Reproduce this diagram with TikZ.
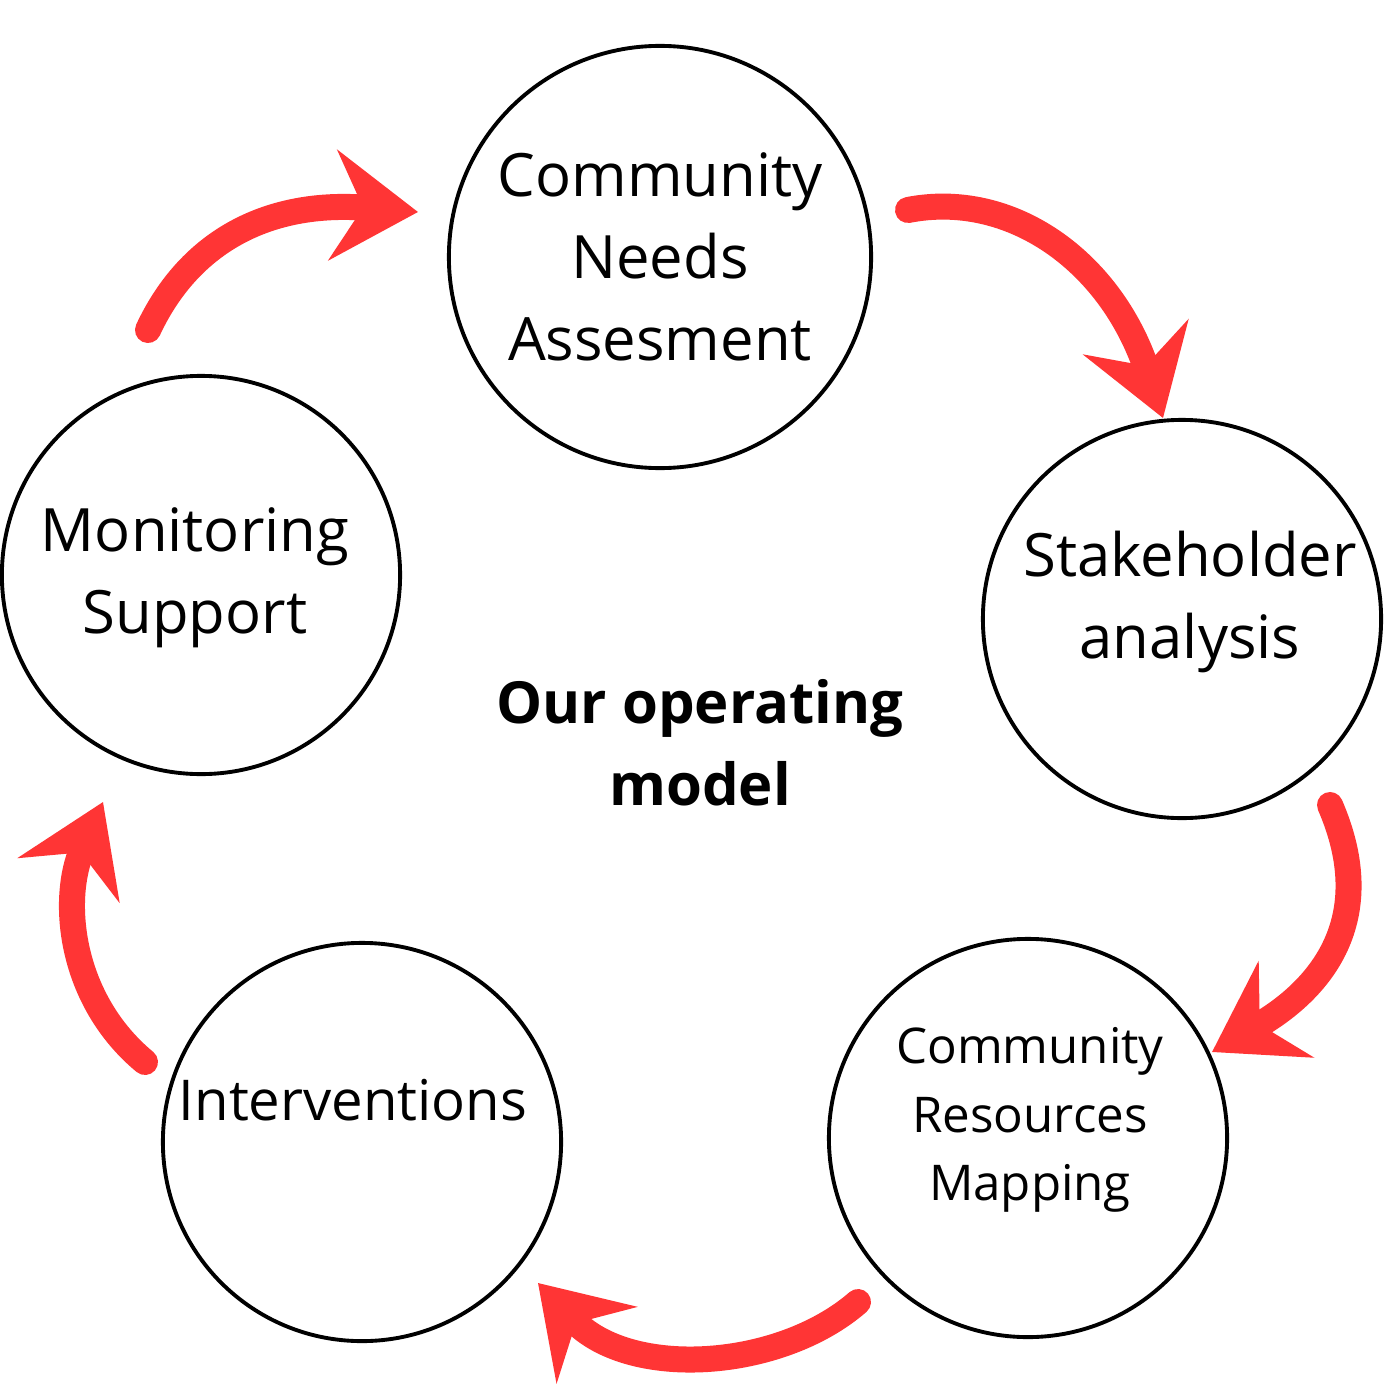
\documentclass[tikz,border=0pt]{standalone}
\usepackage{fontspec}
\setmainfont{Open Sans}
\usetikzlibrary{arrows.meta}
\definecolor{ared}{HTML}{FF3535}
\begin{document}
\begin{tikzpicture}[x=0.01cm,y=-0.01cm,
  stage/.style={circle,draw=black,line width=1.1pt,align=center,inner sep=0pt},
  big/.style={font=\fontsize{17}{23.3}\selectfont},
  arr/.style={draw=ared,line width=0.26cm,line cap=round,-{Stealth[length=0.85cm,width=1.1cm,inset=0.3cm]}}]
\useasboundingbox[fill=white] (0,0) rectangle (1400,1400);
\node[stage,minimum size=4.22cm,big] (cna) at (660,257) {Community\\Needs\\Assesment};
\node[stage,minimum size=3.98cm] (sa) at (1182,619) {};
\node[big,align=center] (sat) at (1190,602) {Stakeholder\\analysis};
\node[stage,minimum size=3.98cm] (crm) at (1028,1138) {};
\node[align=center,font=\fontsize{14}{19.4}\selectfont] (crmt) at (1030,1120) {Community\\Resources\\Mapping};
\node[stage,minimum size=3.98cm] (int) at (362,1142) {};
\node[font=\fontsize{16}{20}\selectfont] (intt) at (353,1100) {Interventions};
\node[stage,minimum size=3.98cm] (mon) at (201,575) {};
\node[big,align=center] (mont) at (195,578) {Monitoring\\Support};
\node[align=center,font=\bfseries\fontsize{16.5}{23.3}\selectfont] (title) at (700,743) {Our operating\\model};
\coordinate (a1) at (148,330); \coordinate (b1) at (418,212);
\coordinate (a2) at (908,210); \coordinate (b2) at (1163,418);
\coordinate (a3) at (1330,805); \coordinate (b3) at (1212,1052);
\coordinate (a4) at (858,1302); \coordinate (b4) at (538,1283);
\coordinate (a5) at (145,1062); \coordinate (b5) at (103,802);
\draw[arr] (a1) .. controls (190,240) and (270,200) .. (b1);
\draw[arr] (a2) .. controls (1010,190) and (1110,260) .. (b2);
\draw[arr] (a3) .. controls (1380,920) and (1320,990) .. (b3);
\draw[arr] (a4) .. controls (780,1370) and (630,1380) .. (b4);
\draw[arr] (a5) .. controls (70,1000) and (60,900) .. (b5);
\end{tikzpicture}
\end{document}
